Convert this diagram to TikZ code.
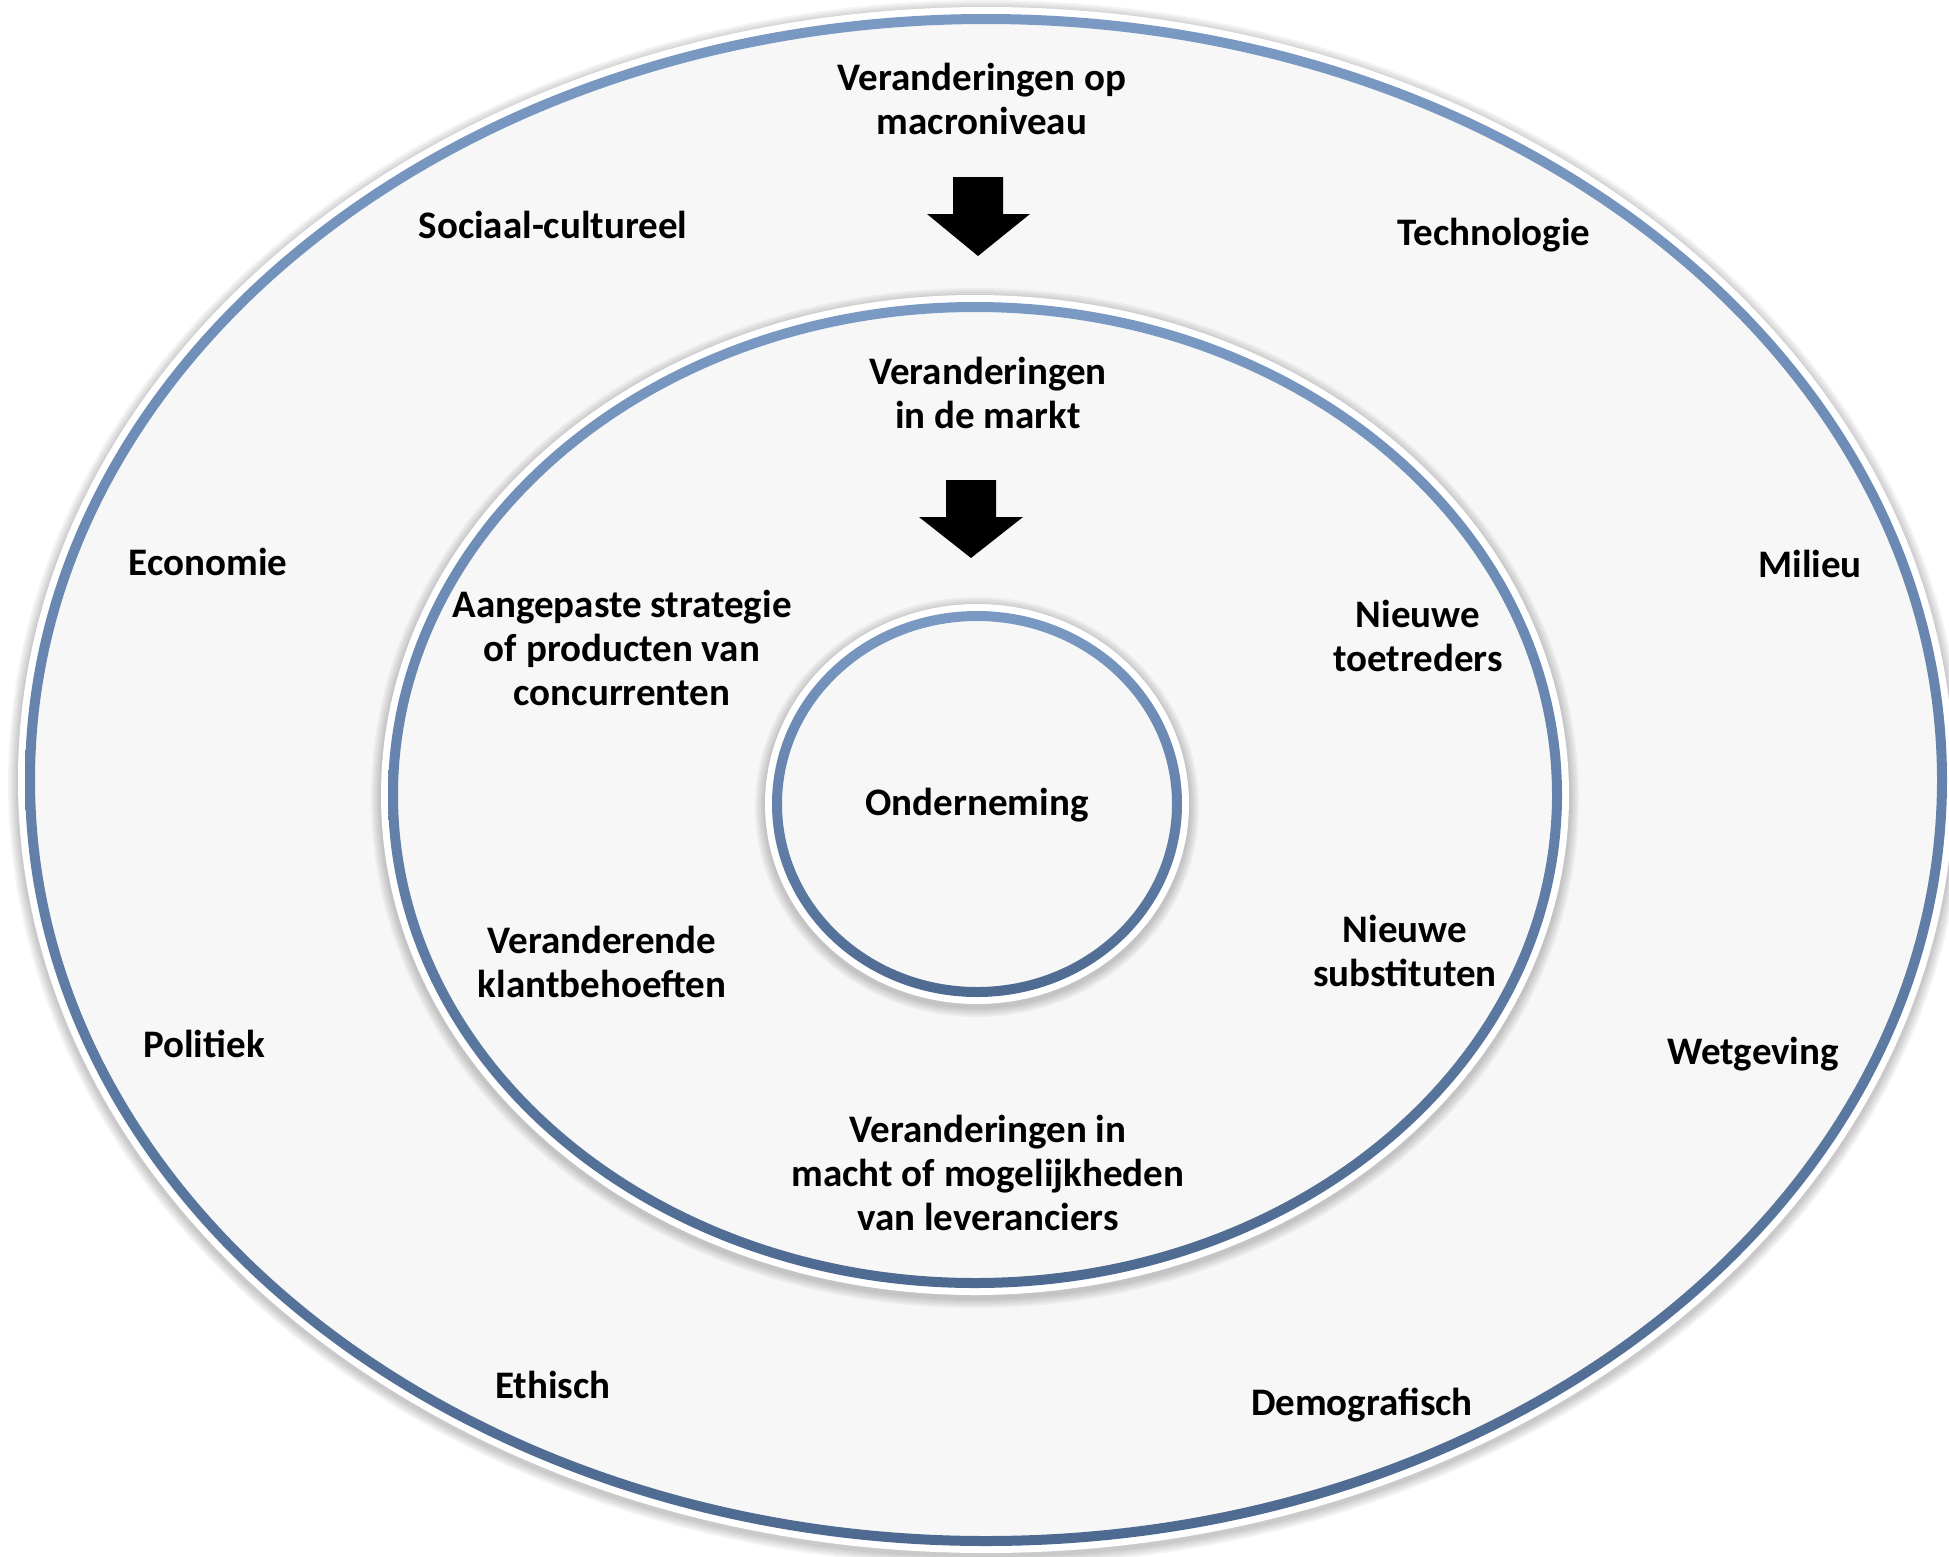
\documentclass[tikz,border=0pt]{standalone}
\usepackage{fontspec}
\setmainfont{Carlito}
\usetikzlibrary{positioning}

\definecolor{paper}{HTML}{F7F7F7}
\definecolor{ringtop}{HTML}{7A9AC4}
\definecolor{ringbot}{HTML}{4E6A91}

\tikzset{
  lbl/.style={font=\bfseries\fontsize{39}{44}\selectfont, align=center, text=black},
  blockarrow/.style={fill=black},
}

\begin{document}
\begin{tikzpicture}[x=1pt, y=-1pt]
\useasboundingbox[fill=white] (0,0) rectangle (1949,1556);

% Rings: environment, market, company
\foreach \cx/\cy/\rx/\ry in {986/780/956/761, 975/795/582/488, 977/804/200/188}{
  % soft shadow
  \foreach \k in {1,...,5}
    \fill[black, opacity=0.045] (\cx,\cy+3) ellipse [x radius={\rx*1pt+(12+2*\k)*1pt}, y radius={\ry*1pt+(12+2*\k)*1pt}];
  \fill[white] (\cx,\cy) ellipse [x radius={\rx*1pt+12pt}, y radius={\ry*1pt+12pt}];
  \fill[paper] (\cx,\cy) ellipse [x radius={\rx*1pt}, y radius={\ry*1pt}];
  \shade[top color=ringtop, bottom color=ringbot, even odd rule]
    (\cx,\cy) ellipse [x radius={\rx*1pt+5pt}, y radius={\ry*1pt+5pt}]
    (\cx,\cy) ellipse [x radius={\rx*1pt-5pt}, y radius={\ry*1pt-5pt}];
}

% Block arrows
\fill[blockarrow] (953,177) -- (1003,177) -- (1003,214) -- (1030,214) -- (978,256)
  -- (927,214) -- (953,214) -- cycle;
\fill[blockarrow] (946,480) -- (996,480) -- (996,517) -- (1023,517) -- (971,558)
  -- (919,517) -- (946,517) -- cycle;

% Macro level
\node[lbl] (macro) at (982,99) {Veranderingen op\\macroniveau};
\node[lbl] (sociaal) at (553,225) {Sociaal-cultureel};
\node[lbl] (techno) at (1494,235) {Technologie};
\node[lbl] (econ) at (208,562) {Economie};
\node[lbl] (milieu) at (1810,564) {Milieu};
\node[lbl] (politiek) at (204,1044) {Politiek};
\node[lbl] (wet) at (1753,1054) {Wetgeving};
\node[lbl] (ethisch) at (553,1385) {Ethisch};
\node[lbl] (demo) at (1362,1405) {Demografisch};

% Market level
\node[lbl] (markt) at (988,393) {Veranderingen\\in de markt};
\node[lbl] (concur) at (622,648) {Aangepaste strategie\\of producten van\\concurrenten};
\node[lbl] (toetr) at (1418,636) {Nieuwe\\toetreders};
\node[lbl] (klant) at (602,962) {Veranderende\\klantbehoeften};
\node[lbl] (subst) at (1405,951) {Nieuwe\\substituten};
\node[lbl] (lever) at (988,1173) {Veranderingen in\\macht of mogelijkheden\\van leveranciers};

% Company
\node[lbl] (onder) at (977,805) {Onderneming};
\end{tikzpicture}
\end{document}
